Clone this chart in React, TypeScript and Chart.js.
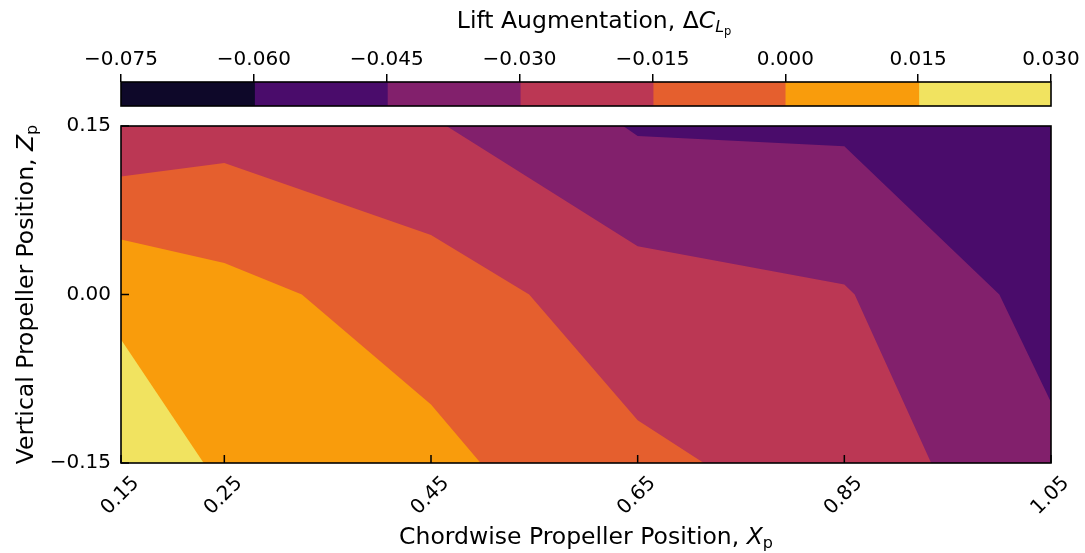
import React, { useEffect, useRef } from 'react';
import { Chart, registerables } from 'chart.js';

Chart.register(...registerables);

const W = 1085;
const H = 553;
const FONT = "'DejaVu Sans', 'Liberation Sans', sans-serif";
const LABEL_SIZE = 23.5;
const TICK_SIZE = 20;

// colour levels of the filled contour (ΔC_Lp)
const LEVELS = [-0.075, -0.06, -0.045, -0.03, -0.015, 0.0, 0.015, 0.03];
const BAND_COLORS = ['#0e0829', '#4a0c6b', '#82206c', '#bb3754', '#e55f2e', '#f99c0c', '#f1e360'];

// axis ticks
const X_TICKS = [0.15, 0.25, 0.45, 0.65, 0.85, 1.05];
const Z_TICKS = [-0.15, 0.0, 0.15];

// contour boundaries (chordwise X, vertical Z); region above/right of each line has the lower level
const BASE_X = [0.15, 1.05];
const BASE_Z = [-0.15, -0.15];
const C_P0015_X = [0.15, 0.23, 1.05];
const C_P0015_Z = [-0.04, -0.15, -0.15];
const C_0000_X = [0.15, 0.25, 0.325, 0.45, 0.498, 1.05];
const C_0000_Z = [0.049, 0.028, 0.0, -0.098, -0.15, -0.15];
const C_M0015_X = [0.15, 0.25, 0.45, 0.545, 0.65, 0.714, 1.05];
const C_M0015_Z = [0.105, 0.117, 0.053, 0.0, -0.112, -0.15, -0.15];
const C_M0030_X = [0.465, 0.65, 0.85, 0.86, 0.934, 1.05];
const C_M0030_Z = [0.15, 0.043, 0.009, 0.0, -0.15, -0.15];
const C_M0045_X = [0.636, 0.65, 0.85, 1.0, 1.05];
const C_M0045_Z = [0.15, 0.141, 0.132, 0.0, -0.096];

function fmt(v: number, d: number): string {
  const s = Math.abs(v).toFixed(d);
  return v < -1e-9 ? '\u2212' + s : s;
}

type Run = { t: string; size: number; italic?: boolean; dy?: number; sub?: boolean };

function fontOf(r: Run) {
  return `${r.italic ? 'italic ' : ''}${r.size}px ${FONT}`;
}

// centres the main (non-subscript) part of the text on cx
function drawRuns(ctx: CanvasRenderingContext2D, runs: Run[], cx: number, y: number, excludeSubs = false) {
  let total = 0;
  let mainW = 0;
  const widths = runs.map((r) => {
    ctx.font = fontOf(r);
    const w = ctx.measureText(r.t).width;
    total += w;
    if (!r.sub) mainW += w;
    return w;
  });
  let x = cx - (excludeSubs ? mainW : total) / 2;
  ctx.textAlign = 'left';
  ctx.textBaseline = 'alphabetic';
  ctx.fillStyle = '#000';
  runs.forEach((r, i) => {
    ctx.font = fontOf(r);
    ctx.fillText(r.t, x, y + (r.dy || 0));
    x += widths[i];
  });
}

const mainPlugin = {
  id: 'mainDecor',
  afterDraw(chart: any) {
    const ctx: CanvasRenderingContext2D = chart.ctx;
    const { left, right, top, bottom } = chart.chartArea;
    const xs = chart.scales.x;
    const ys = chart.scales.y;
    ctx.save();
    // frame
    ctx.strokeStyle = '#000';
    ctx.lineWidth = 1.6;
    ctx.strokeRect(left, top, right - left, bottom - top);
    // inward ticks
    ctx.lineWidth = 1.5;
    ctx.beginPath();
    X_TICKS.forEach((v) => {
      const p = xs.getPixelForValue(v);
      ctx.moveTo(p, bottom);
      ctx.lineTo(p, bottom - 8);
    });
    Z_TICKS.forEach((v) => {
      const p = ys.getPixelForValue(v);
      ctx.moveTo(left, p);
      ctx.lineTo(left + 8, p);
    });
    ctx.stroke();
    // rotated x tick labels
    ctx.fillStyle = '#000';
    ctx.font = `${TICK_SIZE}px ${FONT}`;
    X_TICKS.forEach((v) => {
      const p = xs.getPixelForValue(v);
      ctx.save();
      ctx.translate(p + 15, bottom + 17);
      ctx.rotate(-Math.PI / 4);
      ctx.textAlign = 'right';
      ctx.textBaseline = 'middle';
      ctx.fillText(fmt(v, 2), 0, 0);
      ctx.restore();
    });
    // axis titles
    drawRuns(
      ctx,
      [
        { t: 'Chordwise Propeller Position, ', size: LABEL_SIZE },
        { t: 'X', size: LABEL_SIZE, italic: true },
        { t: 'p', size: 16, dy: 4, sub: true },
      ],
      (left + right) / 2,
      544
    );
    ctx.save();
    ctx.translate(33, (top + bottom) / 2);
    ctx.rotate(-Math.PI / 2);
    drawRuns(
      ctx,
      [
        { t: 'Vertical Propeller Position, ', size: LABEL_SIZE },
        { t: 'Z', size: LABEL_SIZE, italic: true },
        { t: 'p', size: 16, dy: 4, sub: true },
      ],
      0,
      0
    );
    ctx.restore();
    ctx.restore();
  },
};

const cbPlugin = {
  id: 'cbDecor',
  afterDraw(chart: any) {
    const ctx: CanvasRenderingContext2D = chart.ctx;
    const { left, right, top, bottom } = chart.chartArea;
    ctx.save();
    ctx.strokeStyle = '#000';
    ctx.lineWidth = 1.6;
    ctx.strokeRect(left, top, right - left, bottom - top);
    drawRuns(
      ctx,
      [
        { t: 'Lift Augmentation, ', size: LABEL_SIZE },
        { t: '\u0394', size: LABEL_SIZE },
        { t: 'C', size: LABEL_SIZE, italic: true },
        { t: 'L', size: 16, italic: true, dy: 4, sub: true },
        { t: 'p', size: 11.5, dy: 7, sub: true },
      ],
      (left + right) / 2,
      28,
      true
    );
    ctx.restore();
  },
};

export default function App() {
  const mainRef = useRef<HTMLCanvasElement>(null);
  const cbRef = useRef<HTMLCanvasElement>(null);

  useEffect(() => {
    const contours = [
      { xs: BASE_X, zs: BASE_Z, color: BAND_COLORS[6] },
      { xs: C_P0015_X, zs: C_P0015_Z, color: BAND_COLORS[5] },
      { xs: C_0000_X, zs: C_0000_Z, color: BAND_COLORS[4] },
      { xs: C_M0015_X, zs: C_M0015_Z, color: BAND_COLORS[3] },
      { xs: C_M0030_X, zs: C_M0030_Z, color: BAND_COLORS[2] },
      { xs: C_M0045_X, zs: C_M0045_Z, color: BAND_COLORS[1] },
    ];
    const main = new Chart(mainRef.current as HTMLCanvasElement, {
      type: 'line',
      data: {
        datasets: contours.map((c, i) => ({
          data: c.xs.map((x, k) => ({ x, y: c.zs[k] })),
          borderWidth: 0,
          borderColor: 'rgba(0,0,0,0)',
          backgroundColor: c.color,
          pointRadius: 0,
          tension: 0,
          fill: 'end',
          order: contours.length - i,
        })),
      } as any,
      options: {
        responsive: false,
        animation: false,
        events: [],
        layout: { padding: { left: 0, top: 126, right: 34, bottom: 0 } },
        plugins: { legend: { display: false }, tooltip: { enabled: false } },
        scales: {
          x: {
            type: 'linear',
            min: 0.15,
            max: 1.05,
            ticks: { display: false },
            grid: { display: false, drawTicks: false },
            border: { display: false },
            afterFit: (s: any) => {
              s.height = 90;
            },
          },
          y: {
            type: 'linear',
            min: -0.15,
            max: 0.15,
            afterBuildTicks: (s: any) => {
              s.ticks = Z_TICKS.map((v) => ({ value: v }));
            },
            ticks: {
              font: { family: FONT, size: TICK_SIZE },
              color: '#000',
              padding: 10,
              callback: (v: any) => fmt(Number(v), 2),
            },
            grid: { display: false, drawTicks: false },
            border: { display: false },
            afterFit: (s: any) => {
              s.width = 121;
            },
          },
        },
      } as any,
      plugins: [mainPlugin],
    });

    const cb = new Chart(cbRef.current as HTMLCanvasElement, {
      type: 'bar',
      data: {
        labels: [''],
        datasets: BAND_COLORS.map((c, i) => ({
          data: [[LEVELS[i], LEVELS[i + 1]]],
          backgroundColor: c,
          borderWidth: 0,
          barPercentage: 1,
          categoryPercentage: 1,
          grouped: false,
          inflateAmount: 1,
        })),
      } as any,
      options: {
        indexAxis: 'y',
        responsive: false,
        animation: false,
        events: [],
        layout: { padding: { left: 121, right: 34, top: 0, bottom: 14 } },
        plugins: { legend: { display: false }, tooltip: { enabled: false } },
        scales: {
          x: {
            type: 'linear',
            position: 'top',
            min: -0.075,
            max: 0.03,
            afterBuildTicks: (s: any) => {
              s.ticks = LEVELS.map((v) => ({ value: v }));
            },
            afterFit: (s: any) => {
              s.height = 82;
            },
            ticks: {
              font: { family: FONT, size: TICK_SIZE },
              color: '#000',
              padding: 2,
              maxRotation: 0,
              autoSkip: false,
              callback: (v: any) => fmt(Number(v), 3),
            },
            grid: {
              display: true,
              drawOnChartArea: false,
              drawTicks: true,
              tickLength: 8,
              color: '#000',
              lineWidth: 1.5,
            },
            border: { display: false },
          },
          y: { display: false },
        },
      } as any,
      plugins: [cbPlugin],
    });

    return () => {
      main.destroy();
      cb.destroy();
    };
  }, []);

  return (
    <div style={{ position: 'fixed', left: 0, top: 0, width: W, height: H, background: '#fff' }}>
      <canvas ref={cbRef} width={W} height={120} style={{ position: 'absolute', left: 0, top: 0 }} />
      <canvas ref={mainRef} width={W} height={H} style={{ position: 'absolute', left: 0, top: 0 }} />
    </div>
  );
}
